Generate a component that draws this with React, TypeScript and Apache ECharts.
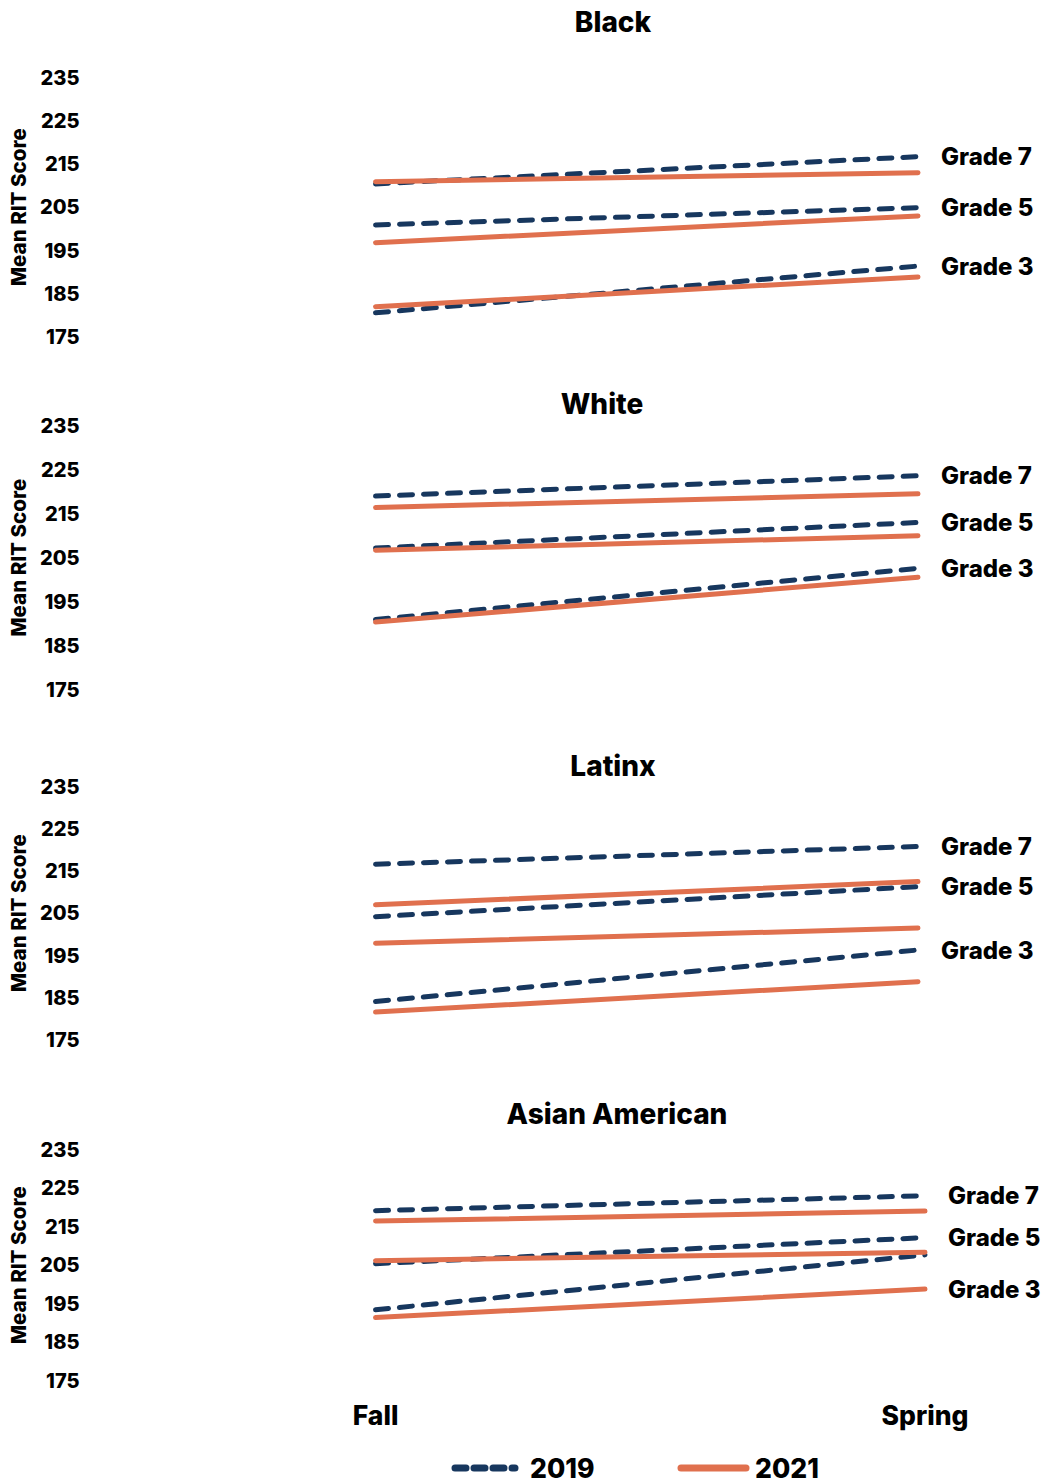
import React, { useEffect, useRef } from "react";
import * as echarts from "echarts";

const categories = ["Fall", "Spring"];
const panels = ["Black", "White", "Latinx", "Asian American"];
const grades = ["Grade 3", "Grade 5", "Grade 7"];
const years = ["2019", "2021"];
const yTicks = { min: 175, max: 235, interval: 10 };

// [grade 3, grade 5, grade 7] each [Fall, Spring]
const black2019 = [[180.6, 191.4], [200.9, 204.9], [210.4, 216.7]];
const black2021 = [[182.0, 188.9], [196.8, 203.0], [210.9, 213.0]];
const white2019 = [[191.0, 202.6], [207.2, 213.0], [219.0, 223.6]];
const white2021 = [[190.4, 200.6], [206.7, 210.0], [216.4, 219.5]];
const latinx2019 = [[184.1, 196.3], [204.2, 211.3], [216.6, 220.8]];
const latinx2021 = [[181.6, 188.8], [197.9, 201.5], [207.0, 212.5]];
const asian2019 = [[193.4, 207.7], [205.4, 212.2], [219.2, 223.1]];
const asian2021 = [[191.4, 198.8], [206.2, 208.4], [216.5, 219.1]];

// which year's line carries each grade label, per panel
const labelYears = [
  ["2019", "2019", "2019"],
  ["2019", "2019", "2019"],
  ["2019", "2019", "2019"],
  ["2021", "2019", "2019"],
];

const panelData = [
  [black2019, black2021],
  [white2019, white2021],
  [latinx2019, latinx2021],
  [asian2019, asian2021],
];

const layout = [
  { top: 77.5, height: 259.5, right: 124, titleX: 608, titleY: 3 },
  { top: 425.5, height: 264.5, right: 124, titleX: 597, titleY: 385 },
  { top: 786.5, height: 253.5, right: 124, titleX: 608, titleY: 747 },
  { top: 1150, height: 230.5, right: 117, titleX: 612, titleY: 1095 },
];

const NAVY = "#17375E";
const ORANGE = "#E0704E";
const FONT = "Inter";
const W = 800;

export default function App() {
  const ref = useRef<HTMLDivElement>(null);
  useEffect(() => {
    document.body.style.margin = "0";
    const chart = echarts.init(ref.current!, null, { renderer: "svg" });
    const grid: any[] = [];
    const xAxis: any[] = [];
    const yAxis: any[] = [];
    const title: any[] = [];
    const series: any[] = [];
    panels.forEach((p, i) => {
      const L = layout[i];
      grid.push({ left: 370, right: L.right, top: L.top, height: L.height });
      title.push({
        text: p,
        left: L.titleX,
        top: L.titleY,
        textAlign: "center",
        textStyle: { fontFamily: FONT, fontWeight: W, fontSize: 28, color: "#000" },
      });
      xAxis.push({
        type: "category",
        gridIndex: i,
        data: categories,
        boundaryGap: false,
        show: i === panels.length - 1,
        axisLine: { show: false },
        axisTick: { show: false },
        splitLine: { show: false },
        axisLabel: {
          margin: 21,
          fontFamily: FONT,
          fontWeight: W,
          fontSize: 26.5,
          color: "#000",
        },
      });
      yAxis.push({
        type: "value",
        gridIndex: i,
        min: yTicks.min,
        max: yTicks.max,
        interval: yTicks.interval,
        name: "Mean RIT Score",
        nameLocation: "middle",
        nameGap: 337,
        nameTextStyle: { fontFamily: FONT, fontWeight: W, fontSize: 20.5, color: "#000" },
        axisLine: { show: false },
        axisTick: { show: false },
        splitLine: { show: false },
        axisLabel: {
          margin: 296,
          fontFamily: FONT,
          fontWeight: W,
          fontSize: 20,
          color: "#000",
        },
      });
      years.forEach((yr, k) => {
        const vals = panelData[i][k];
        grades.forEach((g, gi) => {
          const showLabel = labelYears[i][gi] === yr;
          series.push({
            type: "line",
            name: yr,
            xAxisIndex: i,
            yAxisIndex: i,
            data: vals[gi],
            symbol: "none",
            z: k === 0 ? 2 : 3,
            lineStyle: {
              color: k === 0 ? NAVY : ORANGE,
              width: 5,
              type: k === 0 ? [13, 11] : "solid",
              cap: "round",
            },
            itemStyle: { color: k === 0 ? NAVY : ORANGE },
            endLabel: {
              show: showLabel,
              formatter: g,
              distance: 23,
              fontFamily: FONT,
              fontWeight: W,
              fontSize: 24,
              color: "#000",
            },
          });
        });
      });
    });
    const legendY = 1468;
    const graphic = [
      {
        type: "line",
        shape: { x1: 455, y1: legendY, x2: 515, y2: legendY },
        style: { stroke: NAVY, lineWidth: 7, lineDash: [11, 8], lineCap: "round" },
      },
      {
        type: "text",
        left: 530,
        top: legendY - 14,
        style: { text: years[0], fontFamily: FONT, fontWeight: W, fontSize: 26.5, fill: "#000" },
      },
      {
        type: "line",
        shape: { x1: 681, y1: legendY, x2: 746, y2: legendY },
        style: { stroke: ORANGE, lineWidth: 7, lineCap: "round" },
      },
      {
        type: "text",
        left: 755,
        top: legendY - 14,
        style: { text: years[1], fontFamily: FONT, fontWeight: W, fontSize: 26.5, fill: "#000" },
      },
    ];
    chart.setOption({
      animation: false,
      backgroundColor: "#fff",
      title,
      grid,
      xAxis,
      yAxis,
      series,
      graphic,
    });
    return () => chart.dispose();
  }, []);
  return <div ref={ref} style={{ width: 1042, height: 1483 }} />;
}
